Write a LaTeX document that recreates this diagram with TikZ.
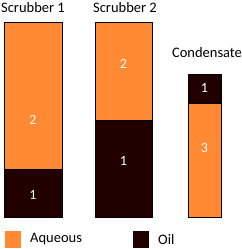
\documentclass[tikz,border=0pt]{standalone}
\usepackage{fontspec}
\setmainfont{Carlito}
\usetikzlibrary{positioning}
\definecolor{aqorange}{HTML}{FF8A33}
\definecolor{oildark}{HTML}{220000}
\tikzset{
  aq/.style={fill=aqorange,draw=black,line width=0.8pt},
  oil/.style={fill=oildark,draw=black,line width=0.8pt},
  num/.style={text=white,font=\fontsize{14}{14}\selectfont,inner sep=0pt},
  ttl/.style={font=\fontsize{14.5}{15}\selectfont,inner sep=0pt},
  leg/.style={font=\fontsize{14.5}{15}\selectfont,inner sep=0pt,anchor=west},
}
\begin{document}
\begin{tikzpicture}[x=1pt,y=-1pt]
  \useasboundingbox (0,0) rectangle (241,249);
  % scrubber 1
  \draw[aq] (4,22) rectangle (62,169.5);
  \draw[oil] (4,169.5) rectangle (62,217);
  \node[num] (s1a) at (33,120) {2};
  \node[num] (s1o) at (33,194.5) {1};
  \node[ttl] (s1t) at (33,8) {Scrubber 1};
  % scrubber 2
  \draw[aq] (95,22) rectangle (152,120);
  \draw[oil] (95,120) rectangle (152,217);
  \node[num] (s2a) at (123.5,63.5) {2};
  \node[num] (s2o) at (123.5,160.5) {1};
  \node[ttl] (s2t) at (125,8) {Scrubber 2};
  % condensate
  \draw[oil] (188,74.5) rectangle (221,103);
  \draw[aq] (188,103) rectangle (221,217);
  \node[num] (c1o) at (204.5,87.5) {1};
  \node[num] (c1a) at (204.5,148.5) {3};
  \node[ttl] (c1t) at (207,52.5) {Condensate};
  % legend
  \fill[aqorange] (5,230.5) rectangle (21,247.5);
  \node[leg] (la) at (30,239.5) {Aqueous};
  \fill[oildark] (133,230.5) rectangle (149,247.5);
  \node[leg] (lo) at (158,239.5) {Oil};
\end{tikzpicture}
\end{document}
